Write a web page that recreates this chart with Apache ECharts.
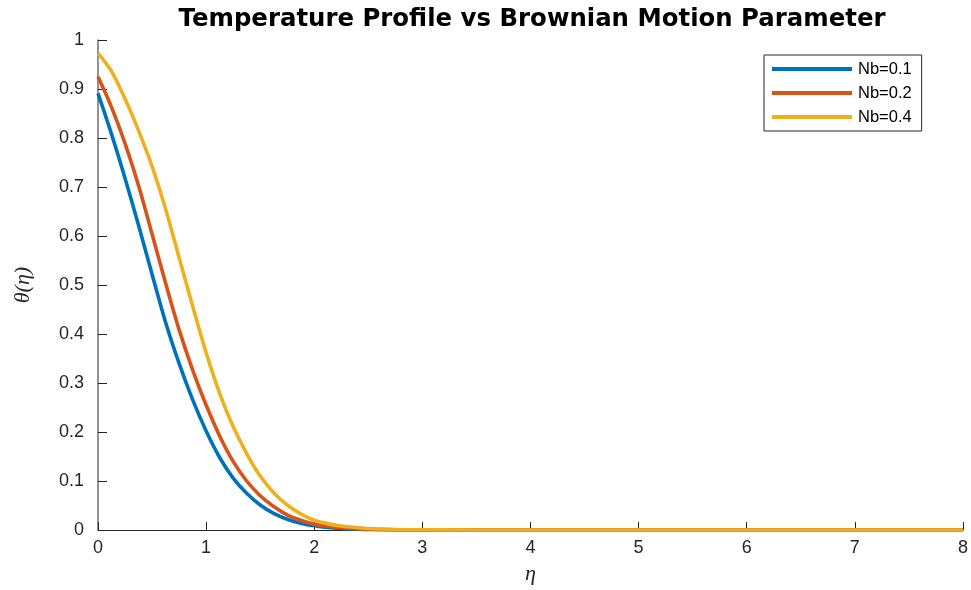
<!DOCTYPE html>
<html>
<head>
<meta charset="utf-8">
<script src="https://cdn.jsdelivr.net/npm/echarts@6/dist/echarts.min.js"></script>
<style>
  html, body { margin: 0; padding: 0; background: #ffffff; }
  #chart { width: 971px; height: 590px; }
</style>
</head>
<body>
<div id="chart"></div>
<script>
// ---- data ----
const titleText = 'Temperature Profile vs Brownian Motion Parameter';
const seriesNames = ['Nb=0.1', 'Nb=0.2', 'Nb=0.4'];
const eta = [0, 0.125, 0.25, 0.375, 0.5, 0.625, 0.75, 0.875, 1, 1.125, 1.25, 1.375, 1.5, 1.625, 1.75, 1.875, 2, 2.125, 2.25, 2.375, 2.5, 2.75, 3, 3.5, 4, 5, 6, 7, 8];
const thetaNb01 = [0.891, 0.808, 0.718, 0.622, 0.522, 0.424, 0.340, 0.266, 0.202, 0.148, 0.106, 0.075, 0.051, 0.034, 0.022, 0.014, 0.0085, 0.005, 0.003, 0.002, 0.001, 0.0003, 0.0001, 0, 0, 0, 0, 0, 0];
const thetaNb02 = [0.925, 0.863, 0.789, 0.703, 0.604, 0.504, 0.409, 0.327, 0.255, 0.192, 0.140, 0.100, 0.070, 0.048, 0.031, 0.020, 0.012, 0.0075, 0.0045, 0.0028, 0.0016, 0.0005, 0.0002, 0, 0, 0, 0, 0, 0];
const thetaNb04 = [0.973, 0.936, 0.880, 0.815, 0.742, 0.655, 0.556, 0.457, 0.362, 0.279, 0.211, 0.156, 0.110, 0.076, 0.051, 0.033, 0.020, 0.013, 0.008, 0.0055, 0.003, 0.001, 0.0004, 0.0001, 0, 0, 0, 0, 0];
const colors = ['#0072BD', '#D95319', '#EDB120'];

const allSeries = [thetaNb01, thetaNb02, thetaNb04];
const pairs = (ys) => eta.map((x, i) => [x, ys[i]]);

const chart = echarts.init(document.getElementById('chart'), null, { renderer: 'canvas' });
const tickFont = { fontFamily: 'Liberation Sans', fontSize: 18, color: '#262626' };

chart.setOption({
  backgroundColor: '#ffffff',
  animation: false,
  title: {
    text: titleText,
    left: 532,
    top: 8,
    padding: 0,
    textAlign: 'center',
    textStyle: { fontFamily: 'DejaVu Sans', fontWeight: 'bold', fontSize: 24.4, color: '#000000' }
  },
  grid: { left: 98, right: 6, top: 40, bottom: 59, containLabel: false },
  legend: {
    orient: 'vertical',
    left: 764,
    top: 55,
    padding: [4, 10, 4, 8],
    itemGap: 4,
    itemWidth: 80,
    itemHeight: 4,
    itemStyle: { borderWidth: 0 },
    icon: 'rect',
    borderColor: '#262626',
    borderWidth: 1,
    backgroundColor: '#ffffff',
    textStyle: { fontFamily: 'Liberation Sans', fontSize: 16.5, color: '#000000', lineHeight: 20, padding: [0, 0, 0, 1] },
    data: seriesNames
  },
  xAxis: {
    type: 'value',
    min: 0, max: 8, interval: 1,
    name: 'η',
    nameLocation: 'middle',
    nameGap: 33,
    nameTextStyle: { fontFamily: 'Liberation Serif', fontStyle: 'italic', fontSize: 22, color: '#262626' },
    axisLine: { show: true, lineStyle: { color: '#262626', width: 1 } },
    axisTick: { show: true, inside: true, length: 8, lineStyle: { color: '#262626', width: 1 } },
    axisLabel: Object.assign({ margin: 9 }, tickFont),
    splitLine: { show: false }
  },
  yAxis: {
    type: 'value',
    min: 0, max: 1, interval: 0.1,
    name: 'θ(η)',
    nameLocation: 'middle',
    nameGap: 64,
    nameRotate: 90,
    nameTextStyle: { fontFamily: 'Liberation Serif', fontStyle: 'italic', fontSize: 22, color: '#262626' },
    axisLine: { show: true, lineStyle: { color: '#6e6e6e', width: 1.5 } },
    axisTick: { show: true, inside: true, length: 9, lineStyle: { color: '#262626', width: 1 } },
    axisLabel: Object.assign({ margin: 14 }, tickFont),
    splitLine: { show: false }
  },
  series: allSeries.map((ys, i) => ({
    name: seriesNames[i],
    type: 'line',
    data: pairs(ys),
    showSymbol: false,
    smooth: 0.3,
    color: colors[i],
    lineStyle: { color: colors[i], width: 3.6 },
    z: 2 + i
  }))
});
</script>
</body>
</html>
